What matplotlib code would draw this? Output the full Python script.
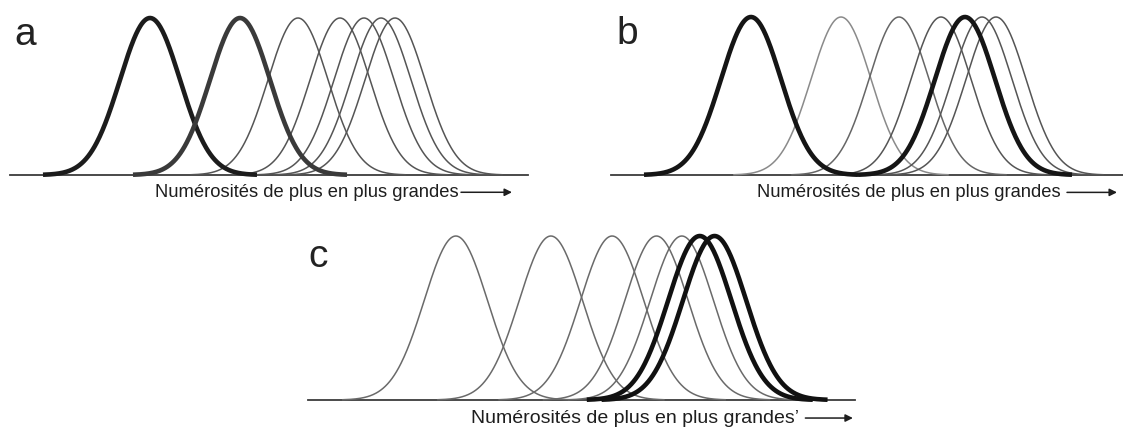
import matplotlib
matplotlib.use("Agg")
import matplotlib.pyplot as plt
import numpy as np

plt.rcParams['font.family'] = ['Liberation Sans', 'DejaVu Sans']

# preferred numerosities of the tuning curves (arbitrary units along the axis)
centers = [140, 230, 288, 330, 354, 371, 385]
sigma = 30
half_span = 107

# which curves are drawn thick in each panel
panel_letters = ['a', 'b', 'c']
thick_idx = {'a': [0, 1], 'b': [0, 4], 'c': [5, 6]}
thick_colors = {'a': ['#1c1c1c', '#3a3a3a'], 'b': ['#151515', '#151515'], 'c': ['#111111', '#111111']}
thin_colors = {'a': ['#555555'] * 7,
               'b': ['#555555', '#8a8a8a', '#666666', '#555555', '#555555', '#555555', '#555555'],
               'c': ['#6a6a6a'] * 7}
label = 'Numérosités de plus en plus grandes'
label_c = 'Numérosités de plus en plus grandes\u2019'

W, H = 1123, 430
fig = plt.figure(figsize=(W / 100, H / 100), dpi=100)

# panel boxes in pixels: left, baseline y, width of axis, peak height
boxes = {'a': (10, 175, 518, 157), 'b': (611, 175, 518, 158), 'c': (308, 400, 547, 164)}
text_x = {'a': 145, 'b': 146, 'c': 154}
text_size = {'a': 13.2, 'b': 13.2, 'c': 14.0}
arrow_x = {'a': (451, 502), 'b': (456, 506), 'c': (471, 516)}
letter_pos = {'a': (15, 0.89), 'b': (16, 0.89), 'c': (9.5, 0.87)}

for p in panel_letters:
    left, base, width, height = boxes[p]
    ax = fig.add_axes([left / W, (H - base) / H, width / W, height / H])
    ax.set_xlim(0, 518)
    ax.set_ylim(0, 1)
    ax.axis('off')
    ax.axhline(0, color='#3c3c3c', lw=1.3, clip_on=False, zorder=1)

    for i, c in enumerate(centers):
        if i in thick_idx[p]:
            continue
        x = np.linspace(c - half_span, c + half_span, 300)
        y = np.exp(-0.5 * ((x - c) / sigma) ** 2)
        ax.plot(x, y, color=thin_colors[p][i], lw=1.1, clip_on=False, zorder=2)

    for k, i in enumerate(thick_idx[p]):
        c = centers[i]
        x = np.linspace(c - half_span, c + half_span, 300)
        y = np.exp(-0.5 * ((x - c) / sigma) ** 2)
        ax.plot(x, y, color=thick_colors[p][k], lw=3.3, clip_on=False, zorder=3,
                solid_capstyle='butt')

    ax.text(text_x[p], -0.11, label_c if p == 'c' else label, fontsize=text_size[p],
            color='#1e1e1e', ha='left', va='center', clip_on=False)
    x0, x1 = arrow_x[p]
    ax.annotate('', xy=(x1, -0.11), xytext=(x0, -0.11),
                arrowprops=dict(arrowstyle='-|>', color='#1e1e1e', lw=1.1,
                                mutation_scale=11, shrinkA=0, shrinkB=0),
                annotation_clip=False)
    lx, ly = letter_pos[p]
    ax.text(lx, ly, p, fontsize=28, color='#222222', ha='center', va='center')

fig.savefig('out.png', dpi=100)
